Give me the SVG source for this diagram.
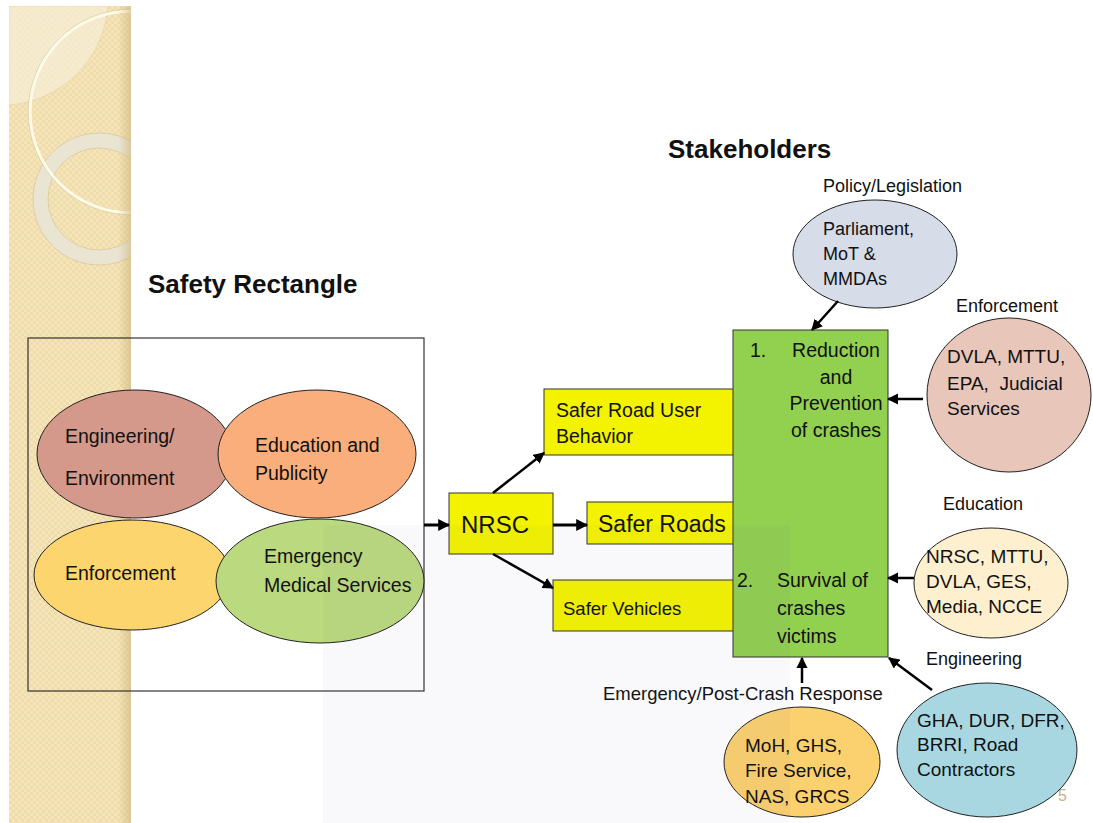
<svg xmlns="http://www.w3.org/2000/svg" width="1093" height="823" viewBox="0 0 1093 823">
  <defs>
    <pattern id="checks" width="6" height="6" patternUnits="userSpaceOnUse">
      <rect width="6" height="6" fill="#f6e5ba"/>
      <rect width="3" height="3" fill="#efdcab"/>
      <rect x="3" y="3" width="3" height="3" fill="#efdcab"/>
    </pattern>
    <linearGradient id="stripShade" x1="0" y1="0" x2="1" y2="0">
      <stop offset="0" stop-color="#c9b27a" stop-opacity="0"/>
      <stop offset="1" stop-color="#c9b27a" stop-opacity="0.55"/>
    </linearGradient>
    <clipPath id="stripClip">
      <rect x="9" y="6" width="122" height="817"/>
    </clipPath>
    <marker id="head" viewBox="0 0 10 10" refX="9" refY="5" markerWidth="4" markerHeight="4" orient="auto" markerUnits="strokeWidth">
      <path d="M0,0 L10,5 L0,10 Z" fill="#000"/>
    </marker>
    <marker id="headThin" viewBox="0 0 10 10" refX="9" refY="5" markerWidth="4.5" markerHeight="4.5" orient="auto" markerUnits="strokeWidth">
      <path d="M0,0 L10,5 L0,10 Z" fill="#000"/>
    </marker>
  </defs>
  <style>
    text { font-family: "Liberation Sans", Arial, sans-serif; fill: #111; }
    .title { font-weight: bold; font-size: 26px; }
    .big { font-size: 19.5px; }
    .mid { font-size: 19px; }
    .lab { font-size: 18px; }
    .shape { stroke: #222; stroke-width: 1; }
    .box { fill: #f3f300; stroke: #333; stroke-width: 1; }
    .arrow { stroke: #000; fill: none; stroke-width: 3; marker-end: url(#head); }
    .arrowThin { stroke: #000; fill: none; stroke-width: 2.5; marker-end: url(#headThin); }
  </style>

  <rect width="1093" height="823" fill="#ffffff"/>

  <!-- decorative side strip -->
  <g id="side-strip" clip-path="url(#stripClip)">
    <rect x="9" y="6" width="122" height="817" fill="url(#checks)"/>
    <path d="M9,6 H108 A107,107 0 0 1 9,105 Z" fill="#f8eed6" opacity="0.75" stroke="#e3d2a8" stroke-width="0.8"/>
    <circle cx="99" cy="199" r="58.5" fill="none" stroke="#e9e4d6" stroke-width="15" opacity="0.9"/>
    <circle cx="99" cy="199" r="66" fill="none" stroke="#d4c49c" stroke-width="0.7"/>
    <circle cx="99" cy="199" r="51" fill="none" stroke="#d4c49c" stroke-width="0.7"/>
    <circle cx="131" cy="112" r="101" fill="none" stroke="#fffbe8" stroke-width="3"/>
    <circle cx="131" cy="112" r="102.8" fill="none" stroke="#d6c79f" stroke-width="0.6"/>
    <rect x="118" y="6" width="13" height="817" fill="url(#stripShade)"/>
  </g>

  <text class="title" x="668" y="158">Stakeholders</text>
  <text class="title" x="148" y="293">Safety Rectangle</text>

  <!-- safety rectangle -->
  <g id="safety-rectangle">
    <rect x="28" y="338" width="396" height="353" fill="none" stroke="#333" stroke-width="1.2"/>
  </g>
  <g id="engineering-environment">
    <ellipse class="shape" cx="135" cy="454" rx="98" ry="64" fill="#d4998a"/>
    <text class="big" x="65" y="443">Engineering/</text>
    <text class="big" x="65" y="485">Environment</text>
  </g>
  <g id="education-publicity">
    <ellipse class="shape" cx="317" cy="454" rx="99" ry="64" fill="#f9ae7b"/>
    <text class="big" x="255" y="452">Education and</text>
    <text class="big" x="255" y="480">Publicity</text>
  </g>
  <g id="enforcement">
    <ellipse class="shape" cx="132" cy="575" rx="98" ry="55" fill="#fdd56e"/>
    <text class="big" x="65" y="580">Enforcement</text>
  </g>
  <g id="emergency-medical">
    <ellipse class="shape" cx="320" cy="581" rx="104" ry="62" fill="#bbd97f"/>
    <text class="big" x="264" y="563">Emergency</text>
    <text class="big" x="264" y="592">Medical Services</text>
  </g>

  <!-- central outcomes -->
  <g id="nrsc">
    <rect class="box" x="449" y="493" width="104" height="61"/>
    <text x="461" y="533" style="font-size:24px">NRSC</text>
  </g>
  <g id="safer-road-user">
    <rect class="box" x="544" y="389" width="190" height="66"/>
    <text class="big" x="556" y="417">Safer Road User</text>
    <text class="big" x="556" y="443">Behavior</text>
  </g>
  <g id="safer-roads">
    <rect class="box" x="587" y="502" width="147" height="42"/>
    <text x="598" y="532" style="font-size:23px">Safer Roads</text>
  </g>
  <g id="safer-vehicles">
    <rect class="box" x="553" y="580" width="181" height="51"/>
    <text x="563" y="615" style="font-size:18.5px">Safer Vehicles</text>
  </g>

  <g id="goals">
    <rect x="733" y="330" width="155" height="327" fill="#92d050" stroke="#333" stroke-width="1"/>
    <text class="big" x="750" y="357">1.</text>
    <text class="big" x="836" y="357" text-anchor="middle">Reduction</text>
    <text class="big" x="836" y="384" text-anchor="middle">and</text>
    <text class="big" x="836" y="410" text-anchor="middle">Prevention</text>
    <text class="big" x="836" y="437" text-anchor="middle">of crashes</text>
    <text class="big" x="737" y="587">2.</text>
    <text class="big" x="777" y="587">Survival of</text>
    <text class="big" x="777" y="615">crashes</text>
    <text class="big" x="777" y="643">victims</text>
  </g>

  <!-- stakeholders -->
  <g id="policy">
    <text class="lab" x="823" y="192">Policy/Legislation</text>
    <ellipse class="shape" cx="875" cy="254" rx="82" ry="54" fill="#d6dce8"/>
    <text class="lab" x="823" y="235">Parliament,</text>
    <text class="lab" x="823" y="260">MoT &amp;</text>
    <text class="lab" x="823" y="285">MMDAs</text>
  </g>
  <g id="enforcement-agencies">
    <text class="lab" x="956" y="312">Enforcement</text>
    <ellipse class="shape" cx="1009" cy="395" rx="82" ry="77" fill="#e8c6ba"/>
    <text class="mid" x="947" y="363">DVLA, MTTU,</text>
    <text class="mid" x="947" y="390" xml:space="preserve">EPA,  Judicial</text>
    <text class="mid" x="947" y="415">Services</text>
  </g>
  <g id="education-agencies">
    <text class="lab" x="943" y="510">Education</text>
    <ellipse class="shape" cx="991" cy="583" rx="77" ry="55" fill="#feefcf"/>
    <text class="mid" x="926" y="563">NRSC, MTTU,</text>
    <text class="mid" x="926" y="588">DVLA, GES,</text>
    <text class="mid" x="926" y="613">Media, NCCE</text>
  </g>
  <text x="1058" y="801" style="font-size:16px;fill:#c9b189">5</text>
  <g id="engineering-agencies">
    <text class="lab" x="926" y="665">Engineering</text>
    <ellipse class="shape" cx="987" cy="750" rx="90" ry="67" fill="#a9d7e1"/>
    <text class="mid" x="917" y="727">GHA, DUR, DFR,</text>
    <text class="mid" x="917" y="751">BRRI, Road</text>
    <text class="mid" x="917" y="776">Contractors</text>
  </g>
  <g id="emergency-response">
    <text class="lab" x="603" y="700" style="font-size:18.5px">Emergency/Post-Crash Response</text>
    <ellipse class="shape" cx="802" cy="762" rx="78" ry="55" fill="#fbd06f"/>
    <text class="mid" x="745" y="752">MoH, GHS,</text>
    <text class="mid" x="745" y="777">Fire Service,</text>
    <text class="mid" x="745" y="803">NAS, GRCS</text>
  </g>

  <!-- connectors -->
  <g id="connectors">
    <line class="arrow" x1="424" y1="525" x2="449" y2="525"/>
    <line class="arrow" x1="553" y1="525" x2="587" y2="525"/>
    <line class="arrowThin" x1="493" y1="493" x2="544" y2="453"/>
    <line class="arrowThin" x1="493" y1="554" x2="553" y2="588"/>
    <line class="arrowThin" x1="838" y1="301" x2="812" y2="330"/>
    <line class="arrowThin" x1="923" y1="399" x2="888" y2="399"/>
    <line class="arrowThin" x1="914" y1="578" x2="888" y2="578"/>
    <line class="arrowThin" x1="932" y1="690" x2="889" y2="658"/>
    <line class="arrowThin" x1="802" y1="683" x2="802" y2="658"/>
  </g>

  <!-- faint background watermark panel -->
  <rect x="323" y="525" width="467" height="298" fill="#5a5a90" opacity="0.035" pointer-events="none"/>
</svg>
